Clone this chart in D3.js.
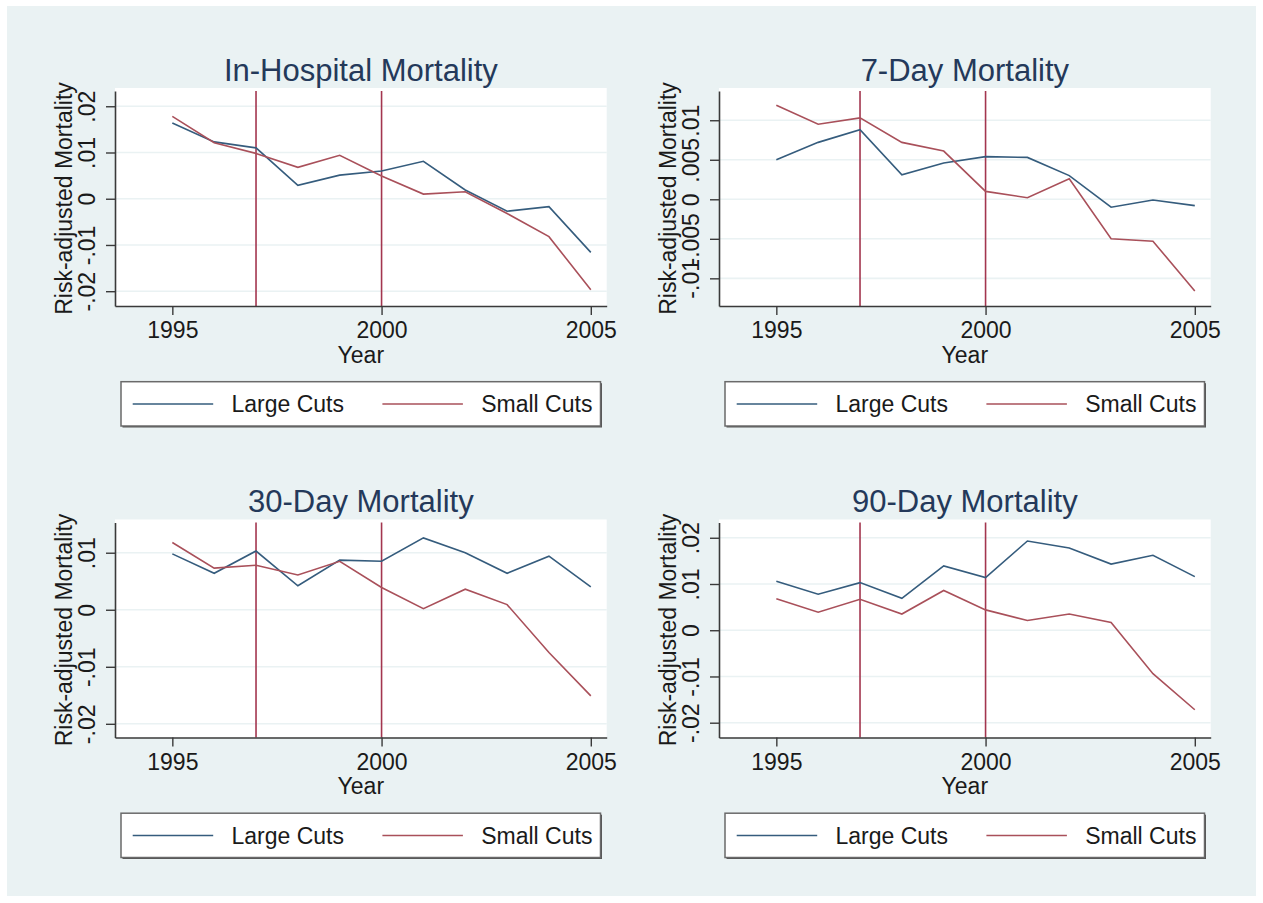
<!DOCTYPE html>
<html>
<head>
<meta charset="utf-8">
<script src="https://cdn.jsdelivr.net/npm/d3@7"></script>
<style>
  body { margin: 0; background: #fff; }
  svg { display: block; }
</style>
</head>
<body>
<div id="graph"></div>
<script>
// values
var years = [1995, 1996, 1997, 1998, 1999, 2000, 2001, 2002, 2003, 2004, 2005];
var xTicks = [1995, 2000, 2005];
var cutYears = [1997, 2000];
var seriesNames = ["Large Cuts", "Small Cuts"];

var titles = ["In-Hospital Mortality", "7-Day Mortality", "30-Day Mortality", "90-Day Mortality"];

var hospLarge = [0.0164, 0.0123, 0.0110, 0.0029, 0.0051, 0.0060, 0.0081, 0.0019, -0.0027, -0.0017, -0.0116];
var hospSmall = [0.0178, 0.0121, 0.0098, 0.0068, 0.0094, 0.0049, 0.0010, 0.0015, -0.0032, -0.0082, -0.0197];

var day7Large = [0.0050, 0.0072, 0.0088, 0.0031, 0.0046, 0.0054, 0.0053, 0.0030, -0.0010, -0.0001, -0.0008];
var day7Small = [0.0119, 0.0095, 0.0103, 0.0072, 0.0061, 0.0010, 0.0002, 0.0026, -0.0050, -0.0053, -0.0116];

var day30Large = [0.0098, 0.0064, 0.0103, 0.0042, 0.0087, 0.0085, 0.0126, 0.0100, 0.0064, 0.0094, 0.0040];
var day30Small = [0.0118, 0.0073, 0.0078, 0.0061, 0.0085, 0.0039, 0.0002, 0.0036, 0.0009, -0.0075, -0.0151];

var day90Large = [0.0106, 0.0078, 0.0103, 0.0069, 0.0139, 0.0114, 0.0193, 0.0178, 0.0143, 0.0162, 0.0116];
var day90Small = [0.0068, 0.0039, 0.0067, 0.0035, 0.0086, 0.0044, 0.0021, 0.0035, 0.0017, -0.0094, -0.0172];

var hospTicks = [-0.02, -0.01, 0, 0.01, 0.02];
var hospTickLabels = ["-.02", "-.01", "0", ".01", ".02"];
var day7Ticks = [-0.01, -0.005, 0, 0.005, 0.01];
var day7TickLabels = ["-.01", "-.005", "0", ".005", ".01"];
var day30Ticks = [-0.02, -0.01, 0, 0.01];
var day30TickLabels = ["-.02", "-.01", "0", ".01"];
var day90Ticks = [-0.02, -0.01, 0, 0.01, 0.02];
var day90TickLabels = ["-.02", "-.01", "0", ".01", ".02"];

var hospRange = [-0.0232, 0.0233];
var day7Range = [-0.0135, 0.0137];
var day30Range = [-0.0224, 0.0153];
var day90Range = [-0.0232, 0.0233];

document.addEventListener('DOMContentLoaded', function() {
    var W = 1263, H = 903;
    var font = "'Liberation Sans', Arial, Helvetica, sans-serif";
    var bg = "#eaf2f3",
        blue = "#355c7d",
        red = "#a9505a",
        cutColor = "#a3364f",
        axisColor = "#3a3a3a",
        textColor = "#1a1a1a";

    var panels = [
        {title: titles[0], large: hospLarge, small: hospSmall, ticks: hospTicks, labels: hospTickLabels, range: hospRange, col: 0, row: 0},
        {title: titles[1], large: day7Large, small: day7Small, ticks: day7Ticks, labels: day7TickLabels, range: day7Range, col: 1, row: 0},
        {title: titles[2], large: day30Large, small: day30Small, ticks: day30Ticks, labels: day30TickLabels, range: day30Range, col: 0, row: 1},
        {title: titles[3], large: day90Large, small: day90Small, ticks: day90Ticks, labels: day90TickLabels, range: day90Range, col: 1, row: 1}
    ];

    // plot area of the first panel, others shifted
    var plot = {left: 115, right: 606.7, top: 91, bottom: 306};
    var dx = 604, dy = 431.5;

    var svg = d3.select("#graph").append("svg")
        .attr("width", W)
        .attr("height", H);

    svg.append("rect")
        .attr("x", 0).attr("y", 0)
        .attr("width", W).attr("height", H)
        .attr("fill", "#fff");

    svg.append("rect")
        .attr("x", 7).attr("y", 6)
        .attr("width", 1249).attr("height", 890)
        .attr("fill", bg);

    panels.forEach(function(p) {
        var g = svg.append("g")
            .attr("transform", "translate(" + (p.col * dx) + "," + (p.row * dy) + ")");

        var x = d3.scaleLinear().domain([1993.63, 2005.38]).range([plot.left, plot.right]);
        var y = d3.scaleLinear().domain(p.range).range([plot.bottom, plot.top]);

        // plot region
        g.append("rect")
            .attr("x", plot.left)
            .attr("y", plot.top - 3)
            .attr("width", plot.right - plot.left)
            .attr("height", plot.bottom - plot.top + 3)
            .attr("fill", "#fff");

        // grid
        g.selectAll("line.grid")
            .data(p.ticks)
            .enter().append("line")
            .attr("class", "grid")
            .attr("x1", plot.left)
            .attr("x2", plot.right)
            .attr("y1", function(d) { return y(d); })
            .attr("y2", function(d) { return y(d); })
            .style("stroke", bg)
            .style("stroke-width", "1.6px");

        // cut lines
        g.selectAll("line.cut")
            .data(cutYears)
            .enter().append("line")
            .attr("class", "cut")
            .attr("x1", function(d) { return x(d); })
            .attr("x2", function(d) { return x(d); })
            .attr("y1", plot.top)
            .attr("y2", plot.bottom)
            .style("stroke", cutColor)
            .style("stroke-width", "1.6px");

        var line = d3.line()
            .x(function(d, i) { return x(years[i]); })
            .y(function(d) { return y(d); });

        g.append("path")
            .datum(p.large)
            .attr("d", line)
            .attr("fill", "none")
            .attr("stroke", blue)
            .attr("stroke-width", 1.6);

        g.append("path")
            .datum(p.small)
            .attr("d", line)
            .attr("fill", "none")
            .attr("stroke", red)
            .attr("stroke-width", 1.6);

        // Eje Y
        var yAxis = d3.axisLeft(y)
            .tickValues(p.ticks)
            .tickFormat(function(d, i) { return p.labels[i]; })
            .tickSize(9)
            .tickSizeOuter(0);

        var ya = g.append("g")
            .attr("transform", "translate(" + plot.left + ",0)")
            .style("font-size", "23px")
            .style("font-family", font)
            .call(yAxis);
        ya.select(".domain").attr("stroke", axisColor).attr("stroke-width", 1.6);
        ya.selectAll(".tick line").attr("stroke", axisColor).attr("stroke-width", 1.4);
        ya.selectAll(".tick text")
            .attr("x", null).attr("dy", null)
            .attr("text-anchor", "middle")
            .attr("fill", textColor)
            .attr("transform", "translate(-20,0) rotate(-90)");

        // Eje X
        var xAxis = d3.axisBottom(x)
            .tickValues(xTicks)
            .tickFormat(d3.format("d"))
            .tickSize(9)
            .tickSizeOuter(0)
            .tickPadding(7);

        var xa = g.append("g")
            .attr("transform", "translate(0," + plot.bottom + ")")
            .style("font-size", "23px")
            .style("font-family", font)
            .call(xAxis);
        xa.select(".domain").attr("stroke", axisColor).attr("stroke-width", 1.6);
        xa.selectAll(".tick line").attr("stroke", axisColor).attr("stroke-width", 1.4);
        xa.selectAll(".tick text").attr("fill", textColor);

        var cx = (plot.left + plot.right) / 2;

        g.append("text")
            .attr("x", cx)
            .attr("y", 80.5)
            .attr("text-anchor", "middle")
            .style("font-family", font)
            .style("font-size", "31px")
            .style("fill", "#24395a")
            .text(p.title);

        g.append("text")
            .attr("x", cx)
            .attr("y", 362.5)
            .attr("text-anchor", "middle")
            .style("font-family", font)
            .style("font-size", "23px")
            .style("fill", textColor)
            .text("Year");

        g.append("text")
            .attr("transform", "translate(72," + ((plot.top + plot.bottom) / 2) + ") rotate(-90)")
            .attr("text-anchor", "middle")
            .style("font-family", font)
            .style("font-size", "23px")
            .style("fill", textColor)
            .text("Risk-adjusted Mortality");

        // legend
        var lg = g.append("g").attr("transform", "translate(121,381.7)");
        lg.append("rect")
            .attr("x", 1.5).attr("y", 1.5)
            .attr("width", 479.5).attr("height", 44.3)
            .attr("fill", "#555");
        lg.append("rect")
            .attr("x", 0).attr("y", 0)
            .attr("width", 479.5).attr("height", 44.3)
            .attr("fill", "#fff")
            .attr("stroke", "#6a6a6a")
            .attr("stroke-width", 1.5);

        var keys = [
            {name: seriesNames[0], color: blue, x0: 11.7},
            {name: seriesNames[1], color: red, x0: 261.4}
        ];
        keys.forEach(function(k) {
            lg.append("line")
                .attr("x1", k.x0).attr("x2", k.x0 + 80.5)
                .attr("y1", 22.3).attr("y2", 22.3)
                .attr("stroke", k.color)
                .attr("stroke-width", 1.6);
            lg.append("text")
                .attr("x", k.x0 + 98.8)
                .attr("y", 30.5)
                .style("font-family", font)
                .style("font-size", "23px")
                .style("fill", textColor)
                .text(k.name);
        });
    });
});
</script>
</body>
</html>
